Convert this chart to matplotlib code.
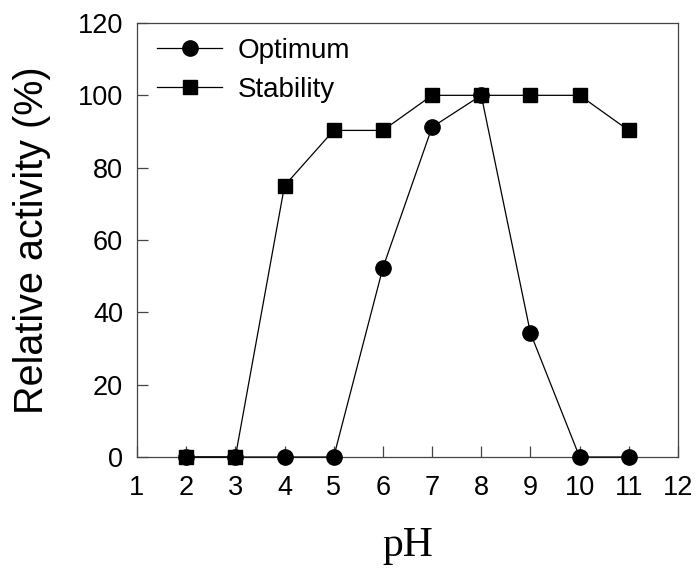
import numpy as np
import matplotlib.pyplot as plt

plt.rcParams['font.family'] = ['Liberation Sans', 'DejaVu Sans']

ph = [2, 3, 4, 5, 6, 7, 8, 9, 10, 11]
optimum = [0, 0, 0, 0, 52.3, 91.2, 100, 34.3, 0, 0]
stability = [0, 0, 75, 90.3, 90.3, 100, 100, 100, 100, 90.3]

fig = plt.figure(figsize=(6.96, 5.69), dpi=100)
ax = fig.add_axes([0.1968, 0.1968, 0.7773, 0.7628])

ax.plot(ph, optimum, color='black', lw=0.9, marker='o', ms=11,
        label='Optimum', clip_on=False, zorder=3)
ax.plot(ph, stability, color='black', lw=0.9, marker='s', ms=9.5,
        label='Stability', clip_on=False, zorder=4)

ax.set_xlim(1, 12)
ax.set_ylim(0, 120)
ax.set_xticks(range(1, 13))
ax.set_yticks(range(0, 121, 20))
ax.tick_params(direction='in', length=8, width=0.9, color='#444444',
               labelsize=19.5)
ax.tick_params(axis='x', pad=13)
ax.tick_params(axis='y', pad=10)
for s in ax.spines.values():
    s.set_color('#444444')
    s.set_linewidth(0.9)

ax.set_xlabel('pH', family=['Liberation Serif'], fontsize=30, labelpad=18)
ax.set_ylabel('Relative activity (%)', fontsize=28.5, labelpad=19)

ax.legend(loc='upper left', bbox_to_anchor=(0.037, 0.965), frameon=False,
          fontsize=20, borderaxespad=0, borderpad=0, handlelength=2.35,
          handletextpad=0.55, labelspacing=0.45)

fig.savefig('out.png', dpi=100)
